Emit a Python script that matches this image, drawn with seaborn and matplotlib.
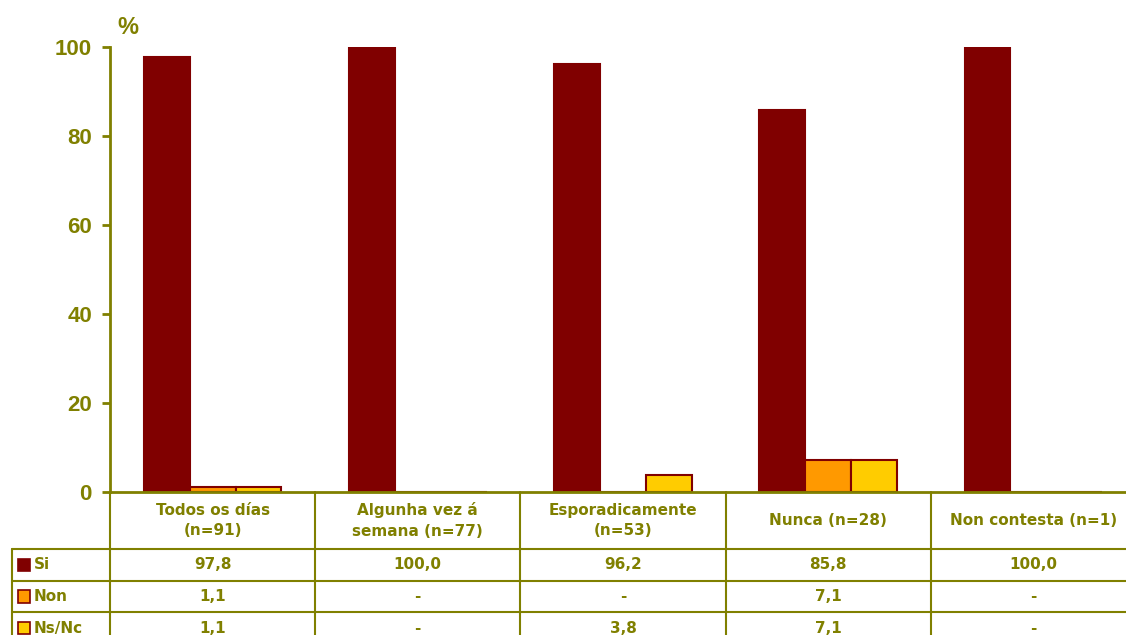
import matplotlib
matplotlib.use("Agg")
import matplotlib.pyplot as plt
import matplotlib.transforms as mtransforms
from matplotlib.patches import Rectangle
import pandas as pd
import seaborn as sns

# --- data -------------------------------------------------------------
categories = [
    "Todos os días\n(n=91)",
    "Algunha vez á\nsemana (n=77)",
    "Esporadicamente\n(n=53)",
    "Nunca (n=28)",
    "Non contesta (n=1)",
]
series = ["Si", "Non", "Ns/Nc"]
si_values = [97.8, 100.0, 96.2, 85.8, 100.0]
non_values = [1.1, 0.0, 0.0, 7.1, 0.0]
nsnc_values = [1.1, 0.0, 3.8, 7.1, 0.0]
y_ticks = [0, 20, 40, 60, 80, 100]

OLIVE = "#808000"
MAROON = "#800000"
colors = {"Si": MAROON, "Non": "#FF9900", "Ns/Nc": "#FFCC00"}

values_by_series = {"Si": si_values, "Non": non_values, "Ns/Nc": nsnc_values}
rows = []
for s in series:
    for c, v in zip(categories, values_by_series[s]):
        rows.append({"categoria": c, "serie": s, "valor": v})
df = pd.DataFrame(rows)

# --- figure -----------------------------------------------------------
sns.set_style("white")
plt.rcParams["font.family"] = ["DejaVu Sans"]

W, H = 1126, 635
fig = plt.figure(figsize=(W / 100, H / 100), dpi=100)
ax = fig.add_axes([110 / W, (H - 492) / H, 1026 / W, 445 / H])

sns.barplot(
    data=df, x="categoria", y="valor", hue="serie",
    order=categories, hue_order=series, palette=colors, saturation=1,
    width=0.67, edgecolor=MAROON, linewidth=1.5,
    errorbar=None, legend=False, ax=ax, zorder=1,
)

ax.set_xlim(-0.5, 4.5)
ax.set_ylim(0, 100)
ax.set_yticks(y_ticks)
ax.set_yticklabels([str(t) for t in y_ticks], fontsize=16,
                   fontweight="bold", color=OLIVE, family="Liberation Sans")
ax.tick_params(axis="y", direction="out", length=6, width=2,
               color=OLIVE, pad=7, left=True)
ax.set_xticks([])
ax.set_xlabel("")
ax.set_ylabel("")
for side in ("top", "right"):
    ax.spines[side].set_visible(False)
for side in ("left", "bottom"):
    ax.spines[side].set_color(OLIVE)
    ax.spines[side].set_linewidth(2)
    ax.spines[side].set_zorder(3)

ax.text(0.007, 1.018, "%", transform=ax.transAxes, fontsize=17,
        fontweight="bold", color=OLIVE, family="Liberation Sans",
        ha="left", va="bottom")

# --- data table under the axis ---------------------------------------
tr = mtransforms.blended_transform_factory(ax.transData, ax.transAxes)
x_left = -0.978
row_lines = [-0.128, -0.2, -0.27, -0.342]
line_kw = dict(color=OLIVE, lw=1.5, transform=tr, clip_on=False)

for i in range(len(categories) + 1):
    xb = -0.5 + i
    ax.plot([xb, xb], [0, row_lines[-1]], **line_kw)
ax.plot([x_left, x_left], [row_lines[0], row_lines[-1]], **line_kw)
for yl in row_lines:
    ax.plot([x_left, 4.5], [yl, yl], **line_kw)

text_kw = dict(transform=tr, fontsize=11, fontweight="bold",
               color=OLIVE, ha="center", va="center", clip_on=False)
for i, c in enumerate(categories):
    ax.text(i, row_lines[0] / 2, c, linespacing=1.45, **text_kw)


def fmt(v):
    return "-" if v == 0 else f"{v:.1f}".replace(".", ",")


row_centers = [(row_lines[k] + row_lines[k + 1]) / 2 for k in range(3)]
key_w, key_h = 0.06, 0.028
for s, yc in zip(series, row_centers):
    for i, v in enumerate(values_by_series[s]):
        ax.text(i, yc, fmt(v), **text_kw)
    ax.add_patch(Rectangle((x_left + 0.03, yc - key_h / 2), key_w, key_h,
                           facecolor=colors[s], edgecolor=MAROON, lw=1.2,
                           transform=tr, clip_on=False))
    ax.text(x_left + 0.105, yc, s, transform=tr, fontsize=11,
            fontweight="bold", color=OLIVE, ha="left", va="center",
            clip_on=False)

fig.savefig("out.png", dpi=100)
